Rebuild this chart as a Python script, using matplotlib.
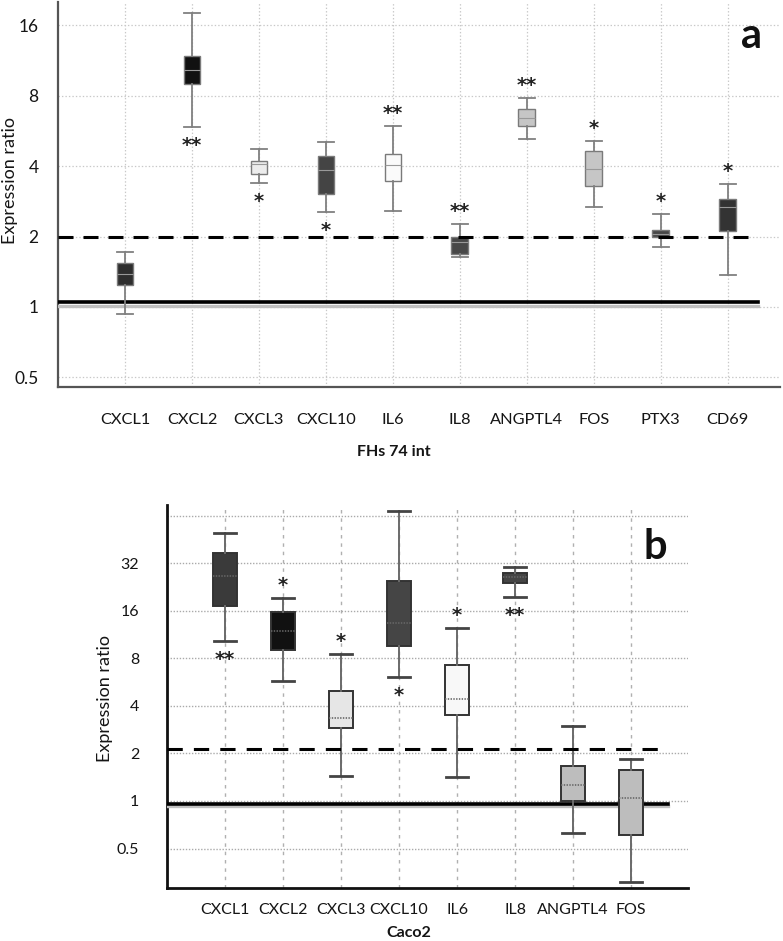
import matplotlib
matplotlib.use('Agg')
import matplotlib.pyplot as plt
import numpy as np

plt.rcParams['font.family'] = ['Lato', 'DejaVu Sans']
plt.rcParams['lines.scale_dashes'] = False

# ---------------- Panel a data (FHs 74 int) ----------------
genes_a = ['CXCL1', 'CXCL2', 'CXCL3', 'CXCL10', 'IL6', 'IL8', 'ANGPTL4', 'FOS', 'PTX3', 'CD69']
a_whislo = [0.93, 5.87, 3.38, 2.54, 2.57, 1.63, 5.22, 2.67, 1.80, 1.37]
a_q1 = [1.24, 8.96, 3.70, 3.04, 3.45, 1.68, 5.93, 3.29, 1.99, 2.11]
a_med = [1.38, 10.3, 4.08, 3.85, 4.04, 1.90, 6.41, 3.88, 2.05, 2.67]
a_q3 = [1.54, 11.8, 4.20, 4.41, 4.50, 1.99, 7.00, 4.64, 2.13, 2.89]
a_whishi = [1.72, 18.0, 4.73, 5.06, 5.93, 2.26, 7.81, 5.11, 2.50, 3.35]
a_stars = ['', '**', '*', '*', '**', '**', '**', '*', '*', '*']
a_star_side = ['', 'below', 'below', 'below', 'above', 'above', 'above', 'above', 'above', 'above']
a_colors = ['#2e2e2e', '#111111', '#ececec', '#444444', '#fafafa', '#484848',
            '#c6c6c6', '#c6c6c6', '#484848', '#333333']
a_yticks = [0.5, 1, 2, 4, 8, 16]
a_yticklabels = ['0.5', '1', '2', '4', '8', '16']

# ---------------- Panel b data (Caco2) ----------------
genes_b = ['CXCL1', 'CXCL2', 'CXCL3', 'CXCL10', 'IL6', 'IL8', 'ANGPTL4', 'FOS']
b_whislo = [10.3, 5.76, 1.44, 6.1, 1.42, 19.6, 0.627, 0.307]
b_q1 = [17.2, 9.06, 2.90, 9.6, 3.51, 24.1, 1.0, 0.61]
b_med = [26.7, 12.0, 3.36, 13.4, 4.43, 26.3, 1.26, 1.04]
b_q3 = [37.3, 15.8, 4.98, 24.8, 7.28, 27.9, 1.67, 1.57]
b_whishi = [49.9, 19.3, 8.54, 68.8, 12.5, 30.4, 2.99, 1.85]
b_stars = ['**', '*', '*', '*', '*', '**', '', '']
b_star_side = ['below', 'above', 'above', 'below', 'above', 'below', '', '']
b_colors = ['#3a3a3a', '#111111', '#e6e6e6', '#454545', '#f8f8f8', '#454545',
            '#bdbdbd', '#bdbdbd']
b_yticks = [0.5, 1, 2, 4, 8, 16, 32, 64]
b_yticklabels = ['0.5', '1', '2', '4', '8', '16', '32', '']

W, H = 783, 941
fig = plt.figure(figsize=(W / 100, H / 100), dpi=100)
TXT = '#151515'


def px_axes(left, top, right, bottom):
    return fig.add_axes([left / W, 1 - bottom / H, (right - left) / W, (bottom - top) / H])


def draw_panel(ax, genes, whislo, q1, med, q3, whishi, colors, stars, sides,
               width, edge, edge_lw, whisk_col, whisk_lw, cap_col, cap_lw, med_style):
    stats = []
    for g, lo, a, m, b, hi in zip(genes, whislo, q1, med, q3, whishi):
        stats.append(dict(label=g, whislo=lo, q1=a, med=m, q3=b, whishi=hi, fliers=[]))
    pos = np.arange(1, len(genes) + 1)
    bp = ax.bxp(stats, positions=pos, widths=width, patch_artist=True, showfliers=False,
                boxprops=dict(edgecolor=edge, linewidth=edge_lw),
                whiskerprops=dict(color=whisk_col, linewidth=whisk_lw),
                capprops=dict(color=cap_col, linewidth=cap_lw),
                capwidths=width * 0.95,
                medianprops=med_style, zorder=4)
    for patch, c in zip(bp['boxes'], colors):
        patch.set_facecolor(c)
    for p, s, side, lo, hi in zip(pos, stars, sides, whislo, whishi):
        if not s:
            continue
        if side == 'above':
            ax.annotate(s, (p, hi), xytext=(0, 9), textcoords='offset points',
                        ha='center', va='center', fontsize=14, fontweight='bold',
                        family='DejaVu Sans', color='#222222', zorder=6)
        else:
            ax.annotate(s, (p, lo), xytext=(0, -13), textcoords='offset points',
                        ha='center', va='center', fontsize=14, fontweight='bold',
                        family='DejaVu Sans', color='#222222', zorder=6)
    return pos


# ---------------- Panel a ----------------
axa = px_axes(58, 2, 780, 387)
axa.set_yscale('log', base=2)
posa = draw_panel(axa, genes_a, a_whislo, a_q1, a_med, a_q3, a_whishi, a_colors,
                  a_stars, a_star_side, 0.25, '#7a7a7a', 1.0, '#808080', 1.3, '#808080', 1.3,
                  dict(color='#999999', linewidth=0.8))
axa.set_xlim(0, 10.78)
axa.set_ylim(0.455, 20.1)
axa.set_yticks(a_yticks)
axa.set_yticklabels(a_yticklabels)
axa.yaxis.set_minor_locator(matplotlib.ticker.NullLocator())
axa.set_xticks(posa)
axa.set_xticklabels(genes_a)
axa.tick_params(axis='y', length=0, pad=14, labelsize=12.5, colors=TXT)
axa.tick_params(axis='x', length=0, pad=19, labelsize=11.8, colors=TXT)
axa.grid(True, which='major', color='#c8c8c8', linestyle=(0, (1, 1.5)), linewidth=0.9)
axa.set_axisbelow(True)
for s in ['top', 'right']:
    axa.spines[s].set_visible(False)
for s in ['left', 'bottom']:
    axa.spines[s].set_color('#555555')
    axa.spines[s].set_linewidth(1.6)
# reference lines
axa.plot([0, 10.45], [1.01, 1.01], color='#c0c0c0', linewidth=2.4, zorder=3)
axa.plot([0, 10.45], [1.045, 1.045], color='black', linewidth=2.6, zorder=3)
axa.plot([0, 10.43], [2, 2], color='black', linewidth=2.2, dashes=(10.8, 7.2), zorder=5)
axa.text(0.975, 0.96, 'a', transform=axa.transAxes, fontsize=30, fontweight='bold',
         ha='right', va='top', color='#111111')
fig.text(10 / W, 1 - 180 / H, 'Expression ratio', rotation=90, ha='center', va='center',
         fontsize=13, color=TXT)
fig.text(394 / W, 1 - 452 / H, 'FHs 74 int', ha='center', va='center', fontsize=11.5,
         fontweight='bold', color=TXT)

# ---------------- Panel b ----------------
axb = px_axes(167, 505, 688, 888)
axb.set_yscale('log', base=2)
posb = draw_panel(axb, genes_b, b_whislo, b_q1, b_med, b_q3, b_whishi, b_colors,
                  b_stars, b_star_side, 0.41, '#333333', 1.4, '#6a6a6a', 1.4, '#444444', 2.0,
                  dict(color='#666666', linewidth=1.2, linestyle=(0, (1, 1))))
axb.set_xlim(0, 8.98)
axb.set_ylim(0.281, 75.1)
axb.set_yticks(b_yticks)
axb.set_yticklabels(b_yticklabels)
axb.yaxis.set_minor_locator(matplotlib.ticker.NullLocator())
axb.set_xticks(posb)
axb.set_xticklabels(genes_b)
axb.tick_params(axis='y', length=0, pad=20, labelsize=11.5, colors=TXT)
axb.tick_params(axis='x', length=0, pad=11, labelsize=11.5, colors=TXT)
axb.grid(True, which='major', axis='y', color='#aaaaaa', linestyle=(0, (1, 1.2)), linewidth=1.0)
axb.grid(True, which='major', axis='x', color='#b0b0b0', linestyle=(0, (2.5, 3.5)), linewidth=1.0)
axb.set_axisbelow(True)
for s in ['top', 'right']:
    axb.spines[s].set_visible(False)
for s in ['left', 'bottom']:
    axb.spines[s].set_color('#111111')
    axb.spines[s].set_linewidth(2.0)
axb.plot([0, 8.63], [0.935, 0.935], color='#c0c0c0', linewidth=2.4, zorder=3)
axb.plot([0, 8.63], [0.96, 0.96], color='black', linewidth=2.6, zorder=3)
axb.plot([0, 8.63], [2.14, 2.14], color='black', linewidth=2.2, dashes=(11, 8), zorder=5)
axb.text(0.96, 0.94, 'b', transform=axb.transAxes, fontsize=30, fontweight='bold',
         ha='right', va='top', color='#111111')
fig.text(105 / W, 1 - 698 / H, 'Expression ratio', rotation=90, ha='center', va='center',
         fontsize=13, color=TXT)
fig.text(409 / W, 1 - 933 / H, 'Caco2', ha='center', va='center', fontsize=11.5,
         fontweight='bold', color=TXT)

fig.savefig('out.png', dpi=100)
